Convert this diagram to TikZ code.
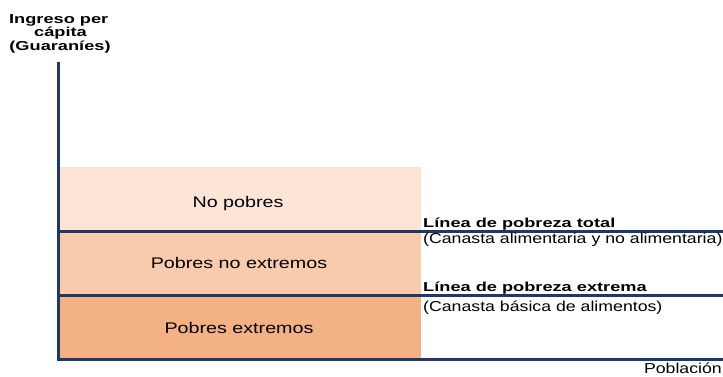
\documentclass[tikz,border=0pt]{standalone}
\usepackage{fontspec}
\usepackage{graphicx}
\setmainfont{Liberation Sans}
\definecolor{npcol}{HTML}{FCE4D6}
\definecolor{pnecol}{HTML}{F8CBAD}
\definecolor{pecol}{HTML}{F4B183}
\definecolor{navy}{HTML}{203864}
\newcommand\stretchband[1]{\scalebox{1.28}[1]{#1}}
\newcommand\stretchnote[1]{\scalebox{1.23}[1]{#1}}
\newcommand\stretchbold[1]{\scalebox{1.40}[1]{#1}}
\tikzset{
  band/.style={draw=none, inner sep=0, minimum width=361pt, minimum height=64pt},
  bandlabel/.style={inner sep=0, anchor=base, font=\fontsize{15.4}{18}\selectfont},
  note/.style={inner sep=0, anchor=base west, font=\fontsize{14.4}{17}\selectfont},
  boldnote/.style={inner sep=0, anchor=base west, font=\fontsize{13}{15}\selectfont\bfseries},
  ylabel/.style={inner sep=0, anchor=base, font=\fontsize{13}{15}\selectfont\bfseries},
  axisline/.style={draw=navy, line width=3pt, line cap=rect},
  povline/.style={draw=navy, line width=3pt},
}
\begin{document}
\begin{tikzpicture}[x=1pt,y=-1pt]
\useasboundingbox (0,0) rectangle (723,376);
% bands
\node[band, fill=npcol] (np) at (240.5,199) {};
\node[band, fill=pnecol] (pne) at (240.5,263) {};
\node[band, fill=pecol] (pe) at (240.5,327) {};
\node[bandlabel] (npl) at (238,207.5) {\stretchband{No pobres}};
\node[bandlabel] (pnel) at (239,268.3) {\stretchband{Pobres no extremos}};
\node[bandlabel] (pel) at (239,333.3) {\stretchband{Pobres extremos}};
% axes
\coordinate (ytop) at (58,63);
\coordinate (orig) at (58,359);
\coordinate (xend) at (722,359);
\draw[axisline] (ytop) -- (orig) -- (xend);
% poverty lines
\coordinate (tl) at (58,231);
\coordinate (tr) at (723,231);
\coordinate (el) at (58,295);
\coordinate (er) at (723,295);
\draw[povline] (tl) -- (tr);
\draw[povline] (el) -- (er);
% notes
\node[boldnote] (lpt) at (423,227) {\stretchbold{Línea de pobreza total}};
\node[note] (cat) at (423,243) {\stretchnote{(Canasta alimentaria y no alimentaria)}};
\node[boldnote] (lpe) at (423,291) {\stretchbold{Línea de pobreza extrema}};
\node[note] (cbe) at (423,311.5) {\stretchnote{(Canasta básica de alimentos)}};
\node[note, anchor=base east] (pob) at (722,373.5) {\stretchnote{Población}};
% y label
\node[ylabel] (y1) at (58.7,23) {\stretchbold{Ingreso per}};
\node[ylabel] (y2) at (60.5,36.5) {\stretchbold{cápita}};
\node[ylabel] (y3) at (60,50) {\stretchbold{(Guaraníes)}};
\end{tikzpicture}
\end{document}
